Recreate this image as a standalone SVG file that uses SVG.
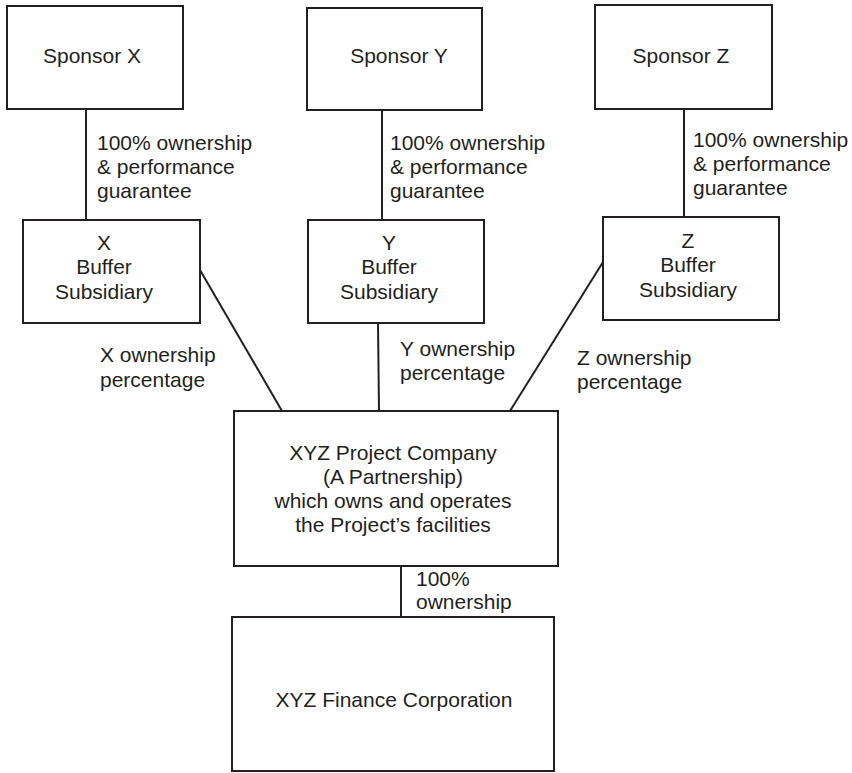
<svg xmlns="http://www.w3.org/2000/svg" width="852" height="773" viewBox="0 0 852 773">
<style>
  .box { fill: #ffffff; stroke: #231f20; stroke-width: 2; }
  .conn { stroke: #231f20; stroke-width: 2; fill: none; }
  text { font-family: "Liberation Sans", Arial, sans-serif; font-size: 21px; fill: #231f20; }
  .c { text-anchor: middle; }
</style>
<rect width="852" height="773" fill="#ffffff"/>
<g id="connectors">
  <line class="conn" x1="86" y1="109" x2="86" y2="220"/>
  <line class="conn" x1="382" y1="110" x2="382" y2="220"/>
  <line class="conn" x1="684" y1="109" x2="684" y2="217"/>
  <line class="conn" x1="200" y1="270" x2="282" y2="411"/>
  <line class="conn" x1="378" y1="323" x2="379" y2="411"/>
  <line class="conn" x1="603" y1="262" x2="510" y2="411"/>
  <line class="conn" x1="401" y1="566" x2="401" y2="617"/>
</g>
<g id="labels">
  <text x="97" y="150">100% ownership</text>
  <text x="97" y="174">&amp; performance</text>
  <text x="97" y="198">guarantee</text>
  <text x="390" y="150">100% ownership</text>
  <text x="390" y="174">&amp; performance</text>
  <text x="390" y="198">guarantee</text>
  <text x="693" y="147">100% ownership</text>
  <text x="693" y="171">&amp; performance</text>
  <text x="693" y="195">guarantee</text>
  <text x="100" y="362">X ownership</text>
  <text x="100" y="387">percentage</text>
  <text x="400" y="356">Y ownership</text>
  <text x="400" y="380">percentage</text>
  <text x="577" y="365">Z ownership</text>
  <text x="577" y="389">percentage</text>
  <text x="416" y="586">100%</text>
  <text x="416" y="609">ownership</text>
</g>
<g id="sponsor-x">
  <rect class="box" x="7" y="6" width="176" height="103"/>
  <text class="c" x="92" y="63">Sponsor X</text>
</g>
<g id="sponsor-y">
  <rect class="box" x="307" y="8" width="175" height="102"/>
  <text class="c" x="399" y="63">Sponsor Y</text>
</g>
<g id="sponsor-z">
  <rect class="box" x="595" y="5" width="177" height="104"/>
  <text class="c" x="681" y="63">Sponsor Z</text>
</g>
<g id="buffer-x">
  <rect class="box" x="23" y="220" width="177" height="103"/>
  <text class="c" x="104" y="250">X</text>
  <text class="c" x="104" y="274">Buffer</text>
  <text class="c" x="104" y="299">Subsidiary</text>
</g>
<g id="buffer-y">
  <rect class="box" x="308" y="220" width="176" height="103"/>
  <text class="c" x="389" y="250">Y</text>
  <text class="c" x="389" y="274">Buffer</text>
  <text class="c" x="389" y="299">Subsidiary</text>
</g>
<g id="buffer-z">
  <rect class="box" x="603" y="217" width="176" height="103"/>
  <text class="c" x="688" y="248">Z</text>
  <text class="c" x="688" y="272">Buffer</text>
  <text class="c" x="688" y="297">Subsidiary</text>
</g>
<g id="project-company">
  <rect class="box" x="234" y="411" width="324" height="155"/>
  <text class="c" x="393" y="460">XYZ Project Company</text>
  <text class="c" x="393" y="484">(A Partnership)</text>
  <text class="c" x="393" y="508">which owns and operates</text>
  <text class="c" x="393" y="532">the Project’s facilities</text>
</g>
<g id="finance-corporation">
  <rect class="box" x="232" y="617" width="322" height="154"/>
  <text class="c" x="394" y="707">XYZ Finance Corporation</text>
</g>
</svg>
